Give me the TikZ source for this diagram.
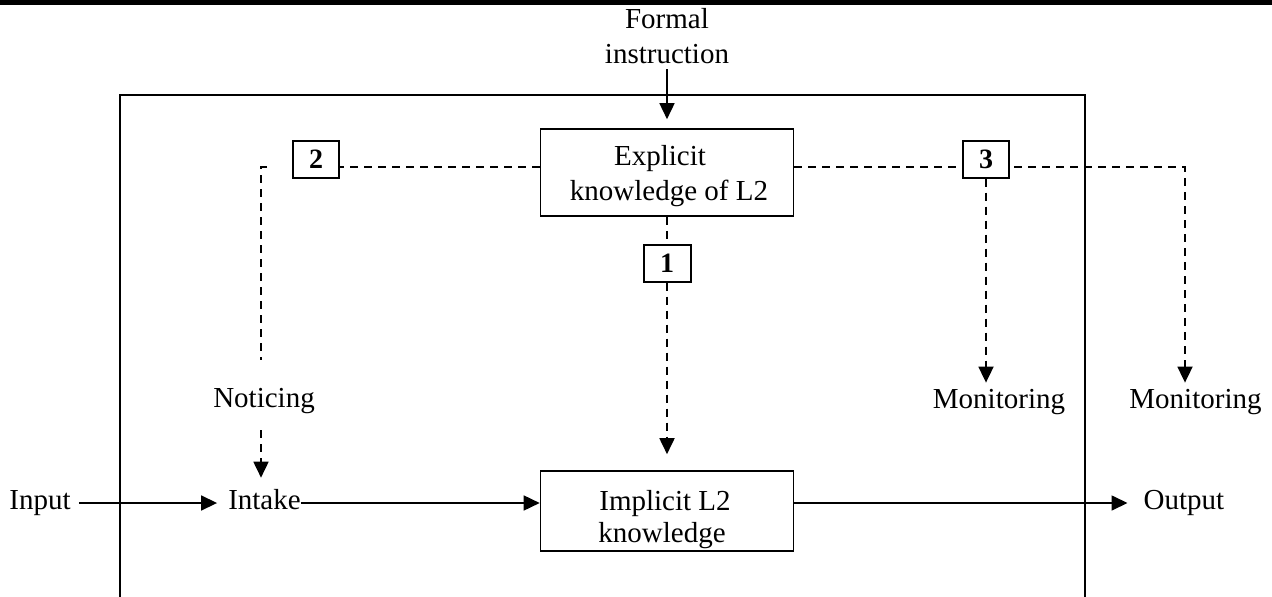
\documentclass[tikz,border=0pt]{standalone}
\usepackage{fontspec}
\setmainfont{Liberation Serif}
\usetikzlibrary{arrows.meta}
\begin{document}
\begin{tikzpicture}[x=1pt,y=-1pt,
  txt/.style={inner sep=0pt, font=\fontsize{29}{35}\selectfont, anchor=base},
  num/.style={inner sep=0pt, font=\fontsize{28}{32}\selectfont\bfseries, anchor=base},
  bx/.style={draw, line width=1.6pt, inner sep=0pt},
  nbx/.style={draw, line width=2pt, fill=white, inner sep=0pt},
  arr/.style={line width=1.6pt, -{Triangle[length=16pt,width=15pt]}},
  dsh/.style={line width=1.8pt, dash pattern=on 8pt off 6pt},
  dtip/.style={dsh, -{Triangle[length=16pt,width=15pt]}}]
\useasboundingbox (0,0) rectangle (1272,597);
% top bar
\fill[black] (0,0) rectangle (1272,5);
% frame
\coordinate (fbl) at (120,597);
\coordinate (ftl) at (120,95);
\coordinate (ftr) at (1085,95);
\coordinate (fbr) at (1085,597);
\draw[line width=1.8pt] (fbl) -- (ftl) -- (ftr) -- (fbr);
% texts
\node[txt] (formal) at (667,28) {Formal};
\node[txt] (instr) at (667,63) {instruction};
\node[bx, minimum width=253pt, minimum height=87pt] (explicit) at (667,172.5) {};
\node[txt] (ex1) at (660,165.5) {Explicit};
\node[txt] (ex2) at (669,200) {knowledge of L2};
\node[bx, minimum width=253pt, minimum height=80pt] (implicit) at (667,511) {};
\node[txt] (im1) at (665,510) {Implicit L2};
\node[txt] (im2) at (662,542) {knowledge};
\node[txt] (input) at (40,509) {Input};
\node[txt] (intake) at (264.5,509) {Intake};
\node[txt] (output) at (1184,509) {Output};
\node[txt] (noticing) at (264,407) {Noticing};
\node[txt] (mon1) at (999,408) {Monitoring};
\node[txt] (mon2) at (1195.5,408) {Monitoring};
% coordinates
\coordinate (row) at (0,503);
\coordinate (lc) at (261,167);
\coordinate (lb) at (261,360);
\coordinate (rc) at (1185,167);
% dashed lines (under the number boxes)
\draw[dsh] (explicit.west |- lc) -- (316,167);
\draw[dsh] ([xshift=6pt]lc) -- (lc) -- (lb);
\draw[dsh] (explicit.east |- lc) -- (986,167);
\draw[dtip, shorten >=6pt] (986,167) -- (rc) -- (rc |- mon2.north);
\draw[dsh] (explicit.south) -- (667,262);
% number boxes
\node[nbx, minimum width=46pt, minimum height=37pt] (b2) at (316,159) {};
\node[num] (n2) at (316,168) {2};
\node[nbx, minimum width=46pt, minimum height=37pt] (b3) at (986,159) {};
\node[num] (n3) at (986,168) {3};
\node[nbx, minimum width=47pt, minimum height=37pt] (b1) at (667,263) {};
\node[num] (n1) at (667,272) {1};
% dashed arrows
\draw[dtip, shorten >=6pt] (b3.south) -- (b3.south |- mon1.north);
\draw[dtip, shorten >=16pt] (b1.south) -- (b1.south |- implicit.north);
\draw[dtip, shorten <=17pt, shorten >=11pt] (noticing.south -| lc) -- (lc |- intake.north);
% solid arrows
\draw[arr, shorten <=6pt, shorten >=9pt] (instr.south) -- (instr.south |- explicit.north);
\draw[arr, shorten <=8pt, shorten >=11pt] (input.east |- row) -- (intake.west |- row);
\draw[arr] (intake.east |- row) -- (implicit.west |- row);
\draw[arr, shorten >=16pt] (implicit.east |- row) -- (output.west |- row);
\end{tikzpicture}
\end{document}
